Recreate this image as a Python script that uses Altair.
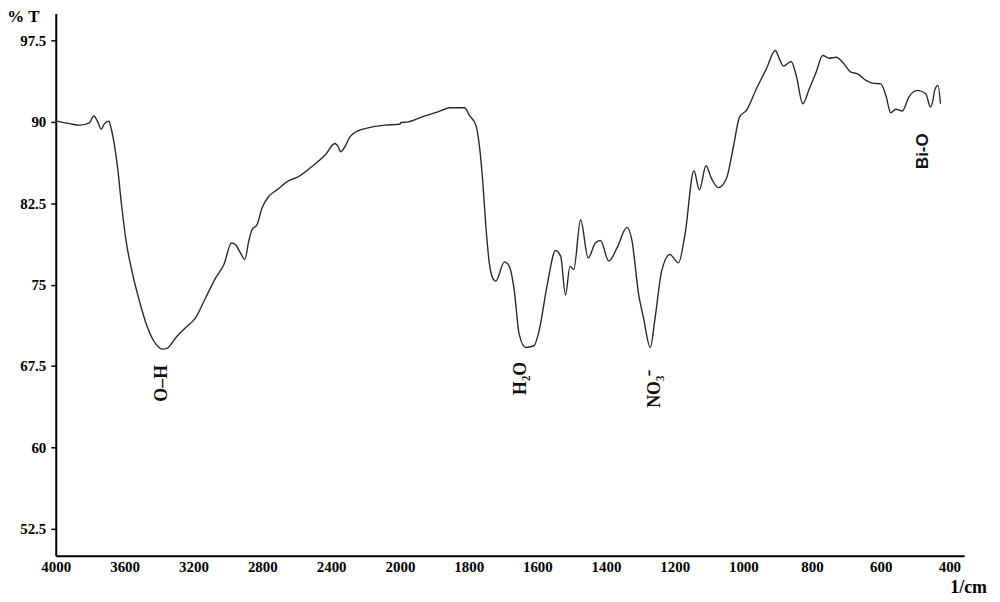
import altair as alt
import pandas as pd

# FTIR spectrum
wavenumber = [
    4000, 3919, 3861, 3803, 3779, 3756, 3736, 3717, 3692, 3678,
    3659, 3640, 3620, 3591, 3553, 3514, 3467, 3418, 3380, 3351,
    3302, 3245, 3187, 3129, 3071, 3023, 2979, 2956, 2927, 2902,
    2879, 2860, 2831, 2802, 2763, 2715, 2648, 2590, 2513, 2435,
    2378, 2359, 2345, 2320, 2291, 2262, 2185, 2089, 2002, 1997,
    1977, 1928, 1890, 1870, 1856, 1812, 1798, 1779, 1769, 1759,
    1750, 1740, 1730, 1721, 1696, 1682, 1667, 1653, 1634, 1610,
    1595, 1571, 1547, 1532, 1518, 1505, 1494, 1474, 1452, 1431,
    1416, 1392, 1368, 1339, 1325, 1305, 1291, 1271, 1257, 1238,
    1214, 1189, 1170, 1144, 1128, 1109, 1093, 1073, 1049, 1030,
    1011, 991, 962, 933, 907, 895, 883, 861, 846, 827,
    808, 788, 769, 750, 730, 711, 687, 667, 643, 624,
    600, 585, 571, 556, 537, 518, 493, 469, 455, 448,
    443, 433, 426,
]
transmittance = [
    90.1, 89.84, 89.7, 89.94, 90.55, 90.0, 89.33, 89.84, 90.06, 89.39,
    87.86, 85.7, 82.66, 78.99, 75.94, 73.49, 71.04, 69.51, 69.05, 69.15,
    70.12, 71.04, 71.95, 73.79, 75.62, 76.85, 78.83, 78.69, 77.92, 77.31,
    78.99, 80.06, 80.52, 82.05, 83.12, 83.73, 84.56, 84.95, 85.87, 86.94,
    88.01, 87.71, 87.25, 87.71, 88.62, 89.02, 89.45, 89.7, 89.79, 89.95,
    90.0, 90.55, 90.92, 91.17, 91.31, 91.31, 90.61, 89.7, 87.86, 84.5,
    80.4, 77.0, 75.6, 75.32, 77.09, 76.7, 74.4, 70.43, 69.2, 69.36,
    70.73, 75.02, 78.14, 77.61, 74.04, 76.7, 76.39, 80.98, 77.46, 78.83,
    79.06, 77.16, 78.38, 80.28, 79.15, 74.1, 71.95, 69.2, 71.95, 76.24,
    77.77, 77.0, 79.61, 85.5, 83.73, 85.96, 84.8, 83.94, 84.8, 87.55,
    90.46, 91.07, 93.06, 94.89, 96.58, 95.81, 95.14, 95.57, 94.28, 91.68,
    93.06, 94.59, 96.12, 95.87, 95.96, 95.5, 94.59, 94.43, 93.83, 93.58,
    93.51, 92.45, 90.85, 91.17, 91.01, 92.29, 92.91, 92.6, 91.38, 91.99,
    92.91, 93.37, 91.68,
]

band_text = ["O\u2013H", "H\u2082O", "NO\u2083\u207b"]
band_wn = [3382, 1648, 1258]
band_t = [65.9, 66.35, 65.4]

bio_text = ["Bi-O"]
bio_wn = [478]
bio_t = [87.3]

x_ticks = [4000, 3600, 3200, 2800, 2400, 2000, 1800, 1600, 1400, 1200, 1000, 800, 600, 400]
y_ticks = [52.5, 60, 67.5, 75, 82.5, 90, 97.5]

df = pd.DataFrame({"wn": wavenumber, "t": transmittance, "idx": list(range(len(wavenumber)))})
band_df = pd.DataFrame({"wn": band_wn, "t": band_t, "text": band_text})
bio_df = pd.DataFrame({"wn": bio_wn, "t": bio_t, "text": bio_text})

xscale = alt.Scale(domain=[4000, 2000, 357], range=[0, 346, 913], nice=False, zero=False)
yscale = alt.Scale(domain=[50, 100], nice=False, zero=False)

serif = "Liberation Serif"

line = alt.Chart(df).mark_line(
    color="#2a2a2a", strokeWidth=1.4, interpolate="monotone"
).encode(
    x=alt.X(
        "wn:Q", scale=xscale,
        axis=alt.Axis(
            values=x_ticks, format="d", title="1/cm", ticks=False, tickSize=0,
            labelPadding=4, labelFlush=False, labelOverlap=False,
            titleX=917, titleY=32, titleAlign="center", titleBaseline="middle",
        ),
    ),
    y=alt.Y(
        "t:Q", scale=yscale,
        axis=alt.Axis(
            values=y_ticks, format=".1~f", title="% T", tickSize=5, tickWidth=1.5,
            tickColor="black", labelPadding=5, labelOverlap=False,
            titleAngle=0, titleX=-33, titleY=8, titleAlign="center",
            titleBaseline="alphabetic", titleFontSize=17,
        ),
    ),
    order="idx:Q",
)

bands = alt.Chart(band_df).mark_text(
    angle=270, font=serif, fontSize=18, fontWeight="bold", color="#111111",
    align="center", baseline="middle",
).encode(
    x=alt.X("wn:Q", scale=xscale),
    y=alt.Y("t:Q", scale=yscale),
    text="text:N",
)

bio = alt.Chart(bio_df).mark_text(
    angle=270, font="Liberation Sans", fontSize=17, fontWeight="bold",
    color="#111111", align="center", baseline="middle",
).encode(
    x=alt.X("wn:Q", scale=xscale),
    y=alt.Y("t:Q", scale=yscale),
    text="text:N",
)

chart = alt.layer(line, bands, bio).properties(
    width=913,
    height=545,
    autosize=alt.AutoSizeParams(type="none"),
    padding={"left": 48, "top": 4, "right": 28, "bottom": 40},
    background="white",
).configure_view(
    stroke=None
).configure_axis(
    grid=False,
    domainColor="black",
    domainWidth=2,
    labelFont=serif,
    labelFontWeight="bold",
    labelFontSize=15,
    labelColor="black",
    titleFont=serif,
    titleFontWeight="bold",
    titleFontSize=18,
    titleColor="black",
)

chart.save("out.html", embed_options={"renderer": "svg", "actions": False})
